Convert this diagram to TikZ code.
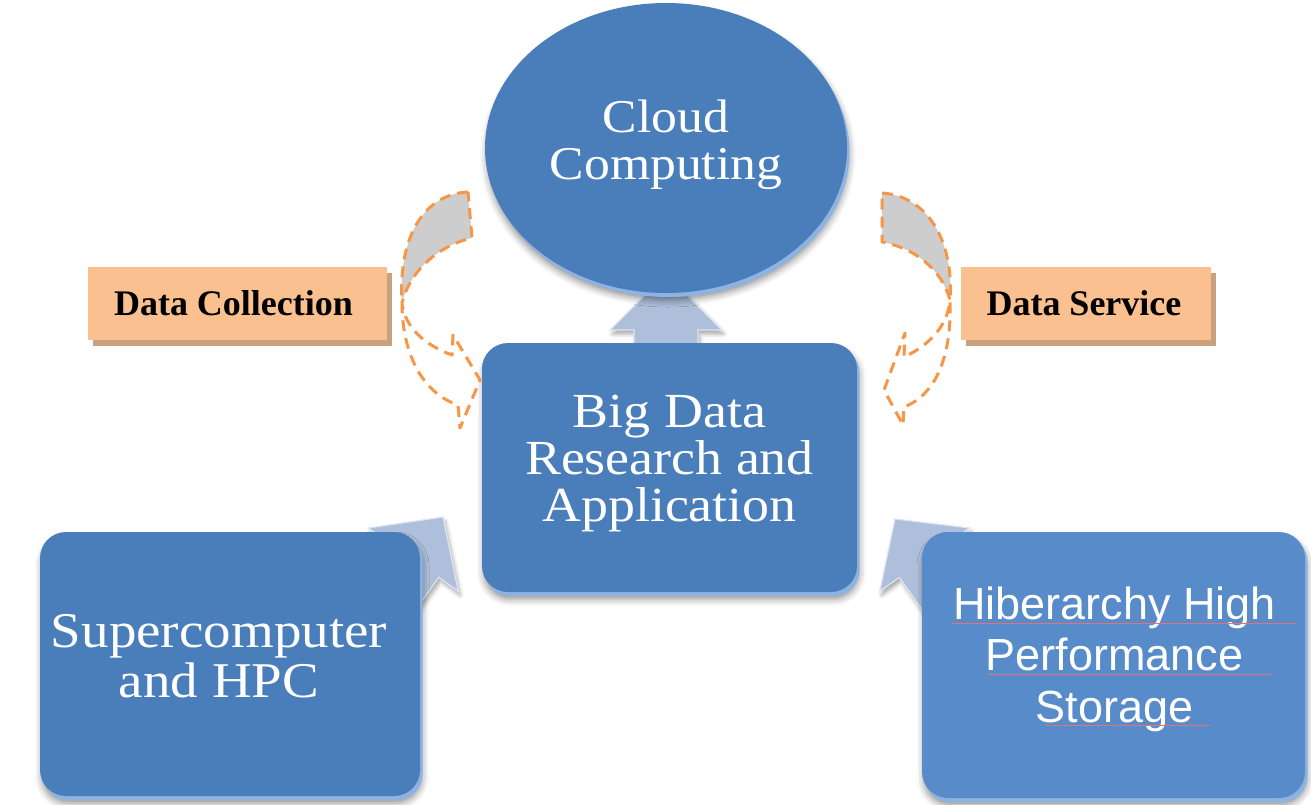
\documentclass[tikz,border=0pt]{standalone}
\usepackage{fontspec}
\setmainfont{Liberation Serif}
\newfontfamily\panelsans{Liberation Sans}
\newfontfamily\panelserif[FakeStretch=1.1]{Liberation Serif}
\usetikzlibrary{shapes.geometric,shadows,shadows.blur}

\definecolor{boxblue}{HTML}{4A7EBB}
\definecolor{storeblue}{HTML}{588BC9}
\definecolor{rimblue}{HTML}{8DB3E2}
\definecolor{arrowfill}{HTML}{AEBFDB}
\definecolor{arrowedge}{HTML}{DCE5F2}
\definecolor{peach}{HTML}{FAC090}
\definecolor{peachshade}{HTML}{C9A17E}
\definecolor{flow}{HTML}{F79646}
\definecolor{crescent}{HTML}{CDCDCD}
\definecolor{squiggle}{HTML}{E2737B}

\newcommand{\cloudfont}{\panelserif\fontsize{47pt}{47pt}\selectfont}
\newcommand{\bigfont}{\panelserif\fontsize{49pt}{47pt}\selectfont}
\newcommand{\superfont}{\panelserif\fontsize{50pt}{50pt}\selectfont}
\newcommand{\storefont}{\panelsans\fontsize{45pt}{51.5pt}\selectfont}
\newcommand{\tagfont}{\bfseries\fontsize{36pt}{40pt}\selectfont}

\pgfdeclarelayer{back}
\pgfsetlayers{back,main}

\tikzset{
  panel/.style={fill=boxblue, draw=none, inner sep=0pt,
    rounded corners=26pt,
    blur shadow={shadow xshift=2pt, shadow yshift=-7pt, shadow blur radius=7pt, shadow opacity=45},
    general shadow={fill=rimblue, shadow xshift=2.5pt, shadow yshift=-4pt}},
  paneltext/.style={text=white, align=center, inner sep=0pt},
  tag/.style={fill=peach, draw=none, inner sep=0pt, minimum height=73pt, font=\tagfont,
    general shadow={fill=peachshade, shadow xshift=5pt, shadow yshift=-6pt}},
  blockarrow/.style={fill=arrowfill, draw=arrowedge, line width=1.2pt, line join=miter,
    blur shadow={shadow xshift=2pt, shadow yshift=-4pt, shadow blur radius=4pt, shadow opacity=35}},
  flowline/.style={draw=flow, line width=3pt, dash pattern=on 11pt off 7pt, line join=round},
  spell/.style={draw=squiggle, line width=1pt}
}

\begin{document}
\begin{tikzpicture}[x=1pt, y=-1pt]
\useasboundingbox (0,0) rectangle (1311,804);

% main panels
\node[panel, ellipse, minimum width=362pt, minimum height=290pt] (cloud) at (666,148) {};
\node[panel, minimum width=375pt, minimum height=249pt] (bigdata) at (669.5,467.5) {};
\node[panel, minimum width=380pt, minimum height=264pt] (super) at (230,664) {};
\node[panel, fill=storeblue, minimum width=383pt, minimum height=266pt] (storage) at (1113.5,665) {};

% panel captions
\node[paneltext, font=\cloudfont] (cloudtext) at ([yshift=3pt]cloud.center) {Cloud\\Computing};
\node[paneltext, font=\bigfont] (bigtext) at ([yshift=4pt]bigdata.center) {Big Data\\Research and\\Application};
\node[paneltext, font=\superfont] (supertext) at ([xshift=-11pt, yshift=8pt]super.center) {Supercomputer\\and HPC};
\node[paneltext, font=\storefont] (storetext) at ([xshift=1pt, yshift=6pt]storage.center) {Hiberarchy High\\Performance\\Storage};

% block arrows behind the panels
\begin{pgfonlayer}{back}
  \draw[blockarrow] (634,360) -- (634,330) -- (610,330) -- (666,274) -- (722,330)
    -- (698,330) -- (698,360) -- cycle;
  \draw[blockarrow] (381.2,659.3) -- (438.6,577.4) -- (458.2,591.2) -- (443,517)
    -- (368.2,528) -- (387.8,541.8) -- (330.4,623.7) -- cycle;
  \draw[blockarrow] (956.8,659.3) -- (899.4,577.4) -- (879.8,591.2) -- (895,519)
    -- (969.8,528) -- (950.2,541.8) -- (1007.6,623.7) -- cycle;
\end{pgfonlayer}

% spelling underlines in the storage panel
\draw[spell] (952,623) -- (1295,623);
\draw[spell] (988,674) -- (1272,674);
\draw[spell] (1045,725) -- (1210,725);

% flow labels
\node[tag, minimum width=299pt] (collect) at (237.5,303.5) {\hspace*{-8pt}Data Collection};
\node[tag, minimum width=250pt] (service) at (1086,303.5) {\hspace*{-4pt}Data Service};

% curved flow arrows: left (collection) and right (service)
\fill[crescent] (468,192) .. controls (425,194) and (398,235) .. (402,303)
  .. controls (410,270) and (440,245) .. (472,238) -- cycle;
\draw[flowline] (468,192) .. controls (425,194) and (398,235) .. (402,303)
  .. controls (402,350) and (420,392) .. (458,405) -- (460,428) -- (480,380)
  -- (453,335) -- (452,355) .. controls (425,345) and (405,328) .. (402,303)
  .. controls (410,270) and (440,245) .. (472,238) -- cycle;

\fill[crescent] (882,193) .. controls (927,196) and (954,240) .. (950,300)
  .. controls (942,270) and (915,248) .. (882,242) -- cycle;
\draw[flowline] (882,193) .. controls (927,196) and (954,240) .. (950,300)
  .. controls (952,358) and (935,395) .. (904,407) -- (903,425) -- (884,390)
  -- (905,333) -- (904,357) .. controls (930,345) and (948,325) .. (950,300)
  .. controls (942,270) and (915,248) .. (882,242) -- cycle;
\end{tikzpicture}
\end{document}
